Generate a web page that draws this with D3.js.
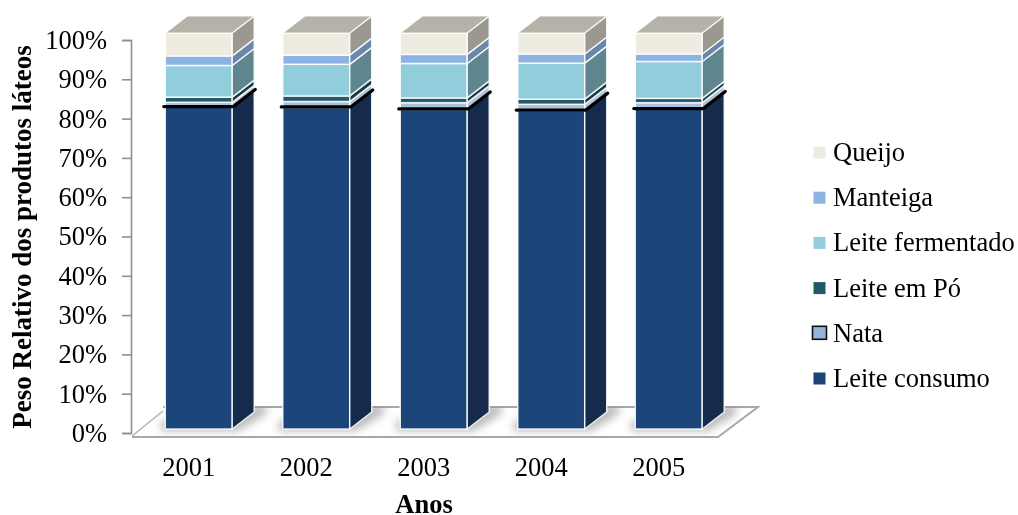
<!DOCTYPE html>
<html>
<head>
<meta charset="utf-8">
<script src="https://cdn.jsdelivr.net/npm/d3@7"></script>
<style>
html, body { margin: 0; padding: 0; background: #fff; }
svg { display: block; }
text { font-family: "Liberation Serif", serif; fill: #000; }
</style>
</head>
<body>
<svg id="chart" width="1018" height="515"></svg>
<script>
var years = ["2001", "2002", "2003", "2004", "2005"];
var seriesNames = ["Leite consumo", "Nata", "Leite em Pó", "Leite fermentado", "Manteiga", "Queijo"];
var leiteConsumo = [81.3, 81.2, 80.7, 80.4, 80.8];
var nata = [1.2, 1.5, 1.7, 1.6, 1.6];
var leitePo = [1.3, 1.4, 1.2, 1.3, 1.1];
var leiteFermentado = [8.0, 8.0, 8.7, 9.1, 9.3];
var manteiga = [2.4, 2.3, 2.3, 2.3, 1.9];
var queijo = [5.8, 5.6, 5.4, 5.3, 5.3];
var axisTicks = [0, 10, 20, 30, 40, 50, 60, 70, 80, 90, 100];

var frontColors = ["#1d4479", "#a9c0de", "#215a68", "#92cddc", "#8db3e2", "#eeece1"];
var sideColors = ["#132c4e", "#b4c4d8", "#153b44", "#5e858f", "#6a86aa", "#9a988f"];
var topColor = "#b5b2a9";
var depthX = 22, depthY = 17;
var fontSize = 26.5;

var rows = years.map(function(y, i) {
	return {
		year: y,
		"Leite consumo": leiteConsumo[i],
		"Nata": nata[i],
		"Leite em Pó": leitePo[i],
		"Leite fermentado": leiteFermentado[i],
		"Manteiga": manteiga[i],
		"Queijo": queijo[i]
	};
});
var stacked = d3.stack().keys(seriesNames)(rows);

var svg = d3.select("#chart");
var defs = svg.append("defs");
defs.append("filter").attr("id", "soft").append("feGaussianBlur").attr("stdDeviation", 0.6);
defs.append("filter").attr("id", "textSoft").append("feGaussianBlur").attr("stdDeviation", 0.25);
defs.append("filter").attr("id", "shadow")
	.attr("x", "-30%").attr("y", "-50%").attr("width", "160%").attr("height", "200%")
	.append("feGaussianBlur").attr("stdDeviation", 4);

var x = d3.scaleBand().domain(years).range([140, 727.5]).paddingInner(0.43).paddingOuter(0.215);
var yBar = d3.scaleLinear().domain([0, 100]).range([429, 33]);
var yAxis = d3.scaleLinear().domain([0, 100]).range([433, 40]);

function pts(a) { return a.map(function(p) { return p.join(","); }).join(" "); }

// floor
var floorPts = [[132, 436], [718, 436], [758, 406.5], [163, 406.5]];
defs.append("clipPath").attr("id", "floorClip").append("polygon").attr("points", pts(floorPts));
var floor = svg.append("g").attr("filter", "url(#soft)");
floor.append("polygon").attr("points", pts(floorPts)).attr("fill", "#fff");
floor.append("path").attr("d", "M132,436 L163,411").attr("stroke", "#b3b3b3").attr("stroke-width", 1.5).attr("fill", "none");
floor.append("path").attr("d", "M163,407 L758,407 L718,437 L132,437").attr("stroke", "#a8a8a8").attr("stroke-width", 2).attr("fill", "none");

// shadows on the floor
svg.append("g").attr("clip-path", "url(#floorClip)")
	.selectAll("polygon").data(years).join("polygon")
	.attr("points", function(d) {
		var x0 = x(d), x1 = x0 + x.bandwidth(), b = yBar(0);
		return pts([[x0 - 4, b + 2], [x1 + 6, b + 2], [x1 + depthX + 12, b - depthY + 2], [x1 + depthX + 12, b - depthY - 8], [x0 - 4, b - 8]]);
	})
	.attr("fill", "#8c8c8c").attr("opacity", 0.6).attr("filter", "url(#shadow)");

// axis
var axisG = svg.append("g").attr("transform", "translate(131,0)");
var axis = d3.axisLeft(yAxis).tickValues(axisTicks).tickSize(9).tickPadding(15).tickFormat(function(d) { return d + "%"; });
axisG.call(axis);
axisG.selectAll("path,line").attr("stroke", "#8f8f8f").attr("stroke-width", 1.6);
axisG.selectAll("text").attr("font-size", fontSize).attr("font-family", "Liberation Serif").attr("filter", "url(#textSoft)");

// bars
var bars = svg.append("g").attr("filter", "url(#soft)");
years.forEach(function(yr, i) {
	var g = bars.append("g");
	var x0 = x(yr), x1 = x0 + x.bandwidth();
	stacked.forEach(function(s, k) {
		var lo = yBar(s[i][0]), hi = yBar(s[i][1]);
		g.append("rect").attr("x", x0).attr("y", hi).attr("width", x.bandwidth()).attr("height", lo - hi)
			.attr("fill", frontColors[k]).attr("stroke", "#fff").attr("stroke-opacity", 0.85).attr("stroke-width", 1.5);
		g.append("polygon")
			.attr("points", pts([[x1, lo], [x1 + depthX, lo - depthY], [x1 + depthX, hi - depthY], [x1, hi]]))
			.attr("fill", sideColors[k]).attr("stroke", "#fff").attr("stroke-opacity", 0.85).attr("stroke-width", 1.5);
	});
	// top face
	var t = yBar(100);
	g.append("polygon")
		.attr("points", pts([[x0, t], [x1, t], [x1 + depthX, t - depthY], [x0 + depthX, t - depthY]]))
		.attr("fill", topColor).attr("stroke", "#fff").attr("stroke-opacity", 0.85).attr("stroke-width", 1.2);
	// black edge under Nata
	var n = yBar(stacked[1][i][0]);
	g.append("path")
		.attr("d", "M" + (x0 - 1.5) + "," + (n - 0.5) + " L" + (x1 + 1) + "," + (n - 0.5) + " L" + (x1 + depthX + 1) + "," + (n - depthY - 0.5))
		.attr("fill", "none").attr("stroke", "#000").attr("stroke-width", 3.2).attr("stroke-linecap", "round");
});

// year labels sit left of the bar centre, at the middle of the floor slot
var labels = svg.append("g").attr("filter", "url(#textSoft)");
labels.selectAll("text").data(years).join("text")
	.attr("x", function(d) { return x(d) + x.bandwidth() / 2 - 10; })
	.attr("y", 476)
	.attr("text-anchor", "middle").attr("font-size", fontSize)
	.text(function(d) { return d; });

labels.append("text").attr("x", 424).attr("y", 513).attr("text-anchor", "middle")
	.attr("font-size", fontSize).attr("font-weight", "bold").text("Anos");
labels.append("text").attr("transform", "translate(31,237) rotate(-90)").attr("text-anchor", "middle")
	.attr("font-size", 27).attr("font-weight", "bold").text("Peso Relativo dos produtos láteos");

// legend
var legendY = d3.scalePoint().domain(seriesNames).range([378, 152]);
var legend = svg.append("g").selectAll("g").data(seriesNames).join("g")
	.attr("transform", function(d) { return "translate(0," + legendY(d) + ")"; });
legend.append("rect")
	.attr("x", function(d) { return d === "Nata" ? 812.5 : 813.5; })
	.attr("y", function(d) { return d === "Nata" ? -6.5 : -5.5; })
	.attr("width", function(d) { return d === "Nata" ? 14 : 12; })
	.attr("height", function(d) { return d === "Nata" ? 13 : 12; })
	.attr("fill", function(d, i) { return d === "Nata" ? "#95b3d7" : frontColors[i]; })
	.attr("stroke", function(d) { return d === "Nata" ? "#111" : "none"; })
	.attr("stroke-width", 1.6);
legend.append("text").attr("x", 833).attr("y", 9).attr("font-size", fontSize).attr("filter", "url(#textSoft)")
	.text(function(d) { return d; });
</script>
</body>
</html>
